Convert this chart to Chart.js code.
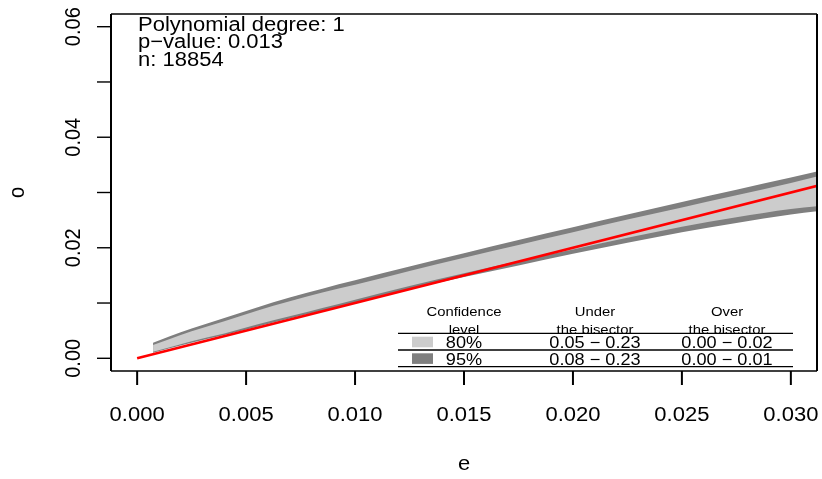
<!DOCTYPE html>
<html>
<head>
<meta charset="utf-8">
<script src="https://cdn.jsdelivr.net/npm/chart.js@4/dist/chart.umd.min.js"></script>
<style>
  html, body { margin: 0; padding: 0; background: #ffffff; }
  canvas { display: block; }
</style>
</head>
<body>
<canvas id="fitChart" width="822" height="479"></canvas>
<script>
// values
const eValues = [0.00073, 0.0015, 0.0025, 0.004, 0.0055, 0.007, 0.0085, 0.010, 0.0125, 0.015, 0.0175, 0.020, 0.0225, 0.025, 0.0275, 0.030, 0.0312];
const upper95 = [0.0028, 0.0040, 0.0054, 0.0073, 0.0092, 0.0110, 0.0126, 0.0141, 0.0166, 0.0190, 0.0214, 0.0237, 0.0260, 0.0283, 0.0305, 0.0327, 0.0338];
const upper80 = [0.0024, 0.0035, 0.0049, 0.0067, 0.0086, 0.0103, 0.0119, 0.0133, 0.0158, 0.0182, 0.0205, 0.0228, 0.0251, 0.0273, 0.0295, 0.0317, 0.0329];
const lower80 = [0.0012, 0.0020, 0.0031, 0.0045, 0.0061, 0.0076, 0.0091, 0.0106, 0.0131, 0.0154, 0.0176, 0.0197, 0.0218, 0.0238, 0.0255, 0.0270, 0.0275];
const lower95 = [0.0010, 0.0018, 0.0028, 0.0042, 0.0057, 0.0072, 0.0086, 0.0101, 0.0125, 0.0147, 0.0168, 0.0189, 0.0209, 0.0228, 0.0245, 0.0260, 0.0266];
const bisector = [0, 0.032];

const xTicks = [0, 0.005, 0.010, 0.015, 0.020, 0.025, 0.030];
const xTickLabels = ["0.000", "0.005", "0.010", "0.015", "0.020", "0.025", "0.030"];
const yTicks = [0, 0.01, 0.02, 0.03, 0.04, 0.05, 0.06];
const yTickLabels = ["0.00", "", "0.02", "", "0.04", "", "0.06"];

const infoLines = ["Polynomial degree: 1", "p\u2212value: 0.013", "n: 18854"];
const tableHeaders = [["Confidence", "level"], ["Under", "the bisector"], ["Over", "the bisector"]];
const tableLevels = ["80%", "95%"];
const tableUnder = ["0.05 \u2212 0.23", "0.08 \u2212 0.23"];
const tableOver = ["0.00 \u2212 0.02", "0.00 \u2212 0.01"];

const LIGHT = "#cccccc";
const DARK = "#7f7f7f";
const FONT = '"Liberation Sans", Arial, sans-serif';
const SX = 1.1; // the reference text is a bit stretched sideways

function toPoints(ys) {
  return eValues.map((e, i) => ({ x: e, y: ys[i] }));
}

function drawText(ctx, text, x, y, size, align, rotated) {
  ctx.save();
  ctx.translate(x, y);
  ctx.scale(SX, 1);
  if (rotated) ctx.rotate(-Math.PI / 2);
  ctx.font = `${size}px ${FONT}`;
  ctx.fillStyle = "#000000";
  ctx.textAlign = align;
  ctx.textBaseline = "alphabetic";
  ctx.fillText(text, 0, 0);
  ctx.restore();
}

function line(ctx, x1, y1, x2, y2, width) {
  ctx.beginPath();
  ctx.lineWidth = width;
  ctx.moveTo(x1, y1);
  ctx.lineTo(x2, y2);
  ctx.stroke();
}

const baseAxes = {
  id: "baseAxes",
  afterDraw(chart) {
    const { ctx, chartArea: area, scales } = chart;
    const xs = scales.x;
    const ys = scales.y;
    ctx.save();
    ctx.strokeStyle = "#000000";

    // box
    line(ctx, area.left, area.top, area.right, area.top, 1.4);
    line(ctx, area.left, area.bottom, area.right, area.bottom, 1.4);
    line(ctx, area.left, area.top, area.left, area.bottom, 2);
    line(ctx, area.right, area.top, area.right, area.bottom, 2);

    // x axis
    xTicks.forEach((v, i) => {
      const px = xs.getPixelForValue(v);
      line(ctx, px, area.bottom, px, area.bottom + 14, 2);
      drawText(ctx, xTickLabels[i], px, 421, 20, "center", false);
    });
    drawText(ctx, "e", (area.left + area.right) / 2, 470, 20, "center", false);

    // y axis
    yTicks.forEach((v, i) => {
      const py = ys.getPixelForValue(v);
      line(ctx, area.left - 14, py, area.left, py, 1.4);
      if (yTickLabels[i]) drawText(ctx, yTickLabels[i], 80, py, 20, "center", true);
    });
    drawText(ctx, "o", 24, (area.top + area.bottom) / 2, 20, "center", true);

    // info text
    infoLines.forEach((t, i) => drawText(ctx, t, 138, 31 + i * 17.4, 20, "left", false));

    // table legend
    const cols = [464, 595, 727];
    tableHeaders.forEach((h, i) => {
      drawText(ctx, h[0], cols[i], 316, 13.5, "center", false);
      drawText(ctx, h[1], cols[i], 333.5, 13.5, "center", false);
    });
    const rowBase = [348, 364.5];
    const swatchTop = [336.7, 353.3];
    [LIGHT, DARK].forEach((c, i) => {
      ctx.fillStyle = c;
      ctx.fillRect(412, swatchTop[i], 21, 10.6);
      drawText(ctx, tableLevels[i], cols[0], rowBase[i], 16.5, "center", false);
      drawText(ctx, tableUnder[i], cols[1], rowBase[i], 16.5, "center", false);
      drawText(ctx, tableOver[i], cols[2], rowBase[i], 16.5, "center", false);
    });
    [333.3, 350, 366.7].forEach((y) => line(ctx, 398, y, 793, y, 1.3));

    ctx.restore();
  },
};

new Chart(document.getElementById("fitChart"), {
  type: "line",
  data: {
    datasets: [
      {
        label: "bisector",
        data: bisector.map((v) => ({ x: v, y: v })),
        borderColor: "#ff0000",
        borderWidth: 2.6,
        pointRadius: 0,
        fill: false,
      },
      {
        label: "80% upper",
        data: toPoints(upper80),
        borderWidth: 0,
        pointRadius: 0,
        backgroundColor: LIGHT,
        fill: "+1",
        cubicInterpolationMode: "monotone",
      },
      {
        label: "80% lower",
        data: toPoints(lower80),
        borderWidth: 0,
        pointRadius: 0,
        fill: false,
        cubicInterpolationMode: "monotone",
      },
      {
        label: "95% upper",
        data: toPoints(upper95),
        borderWidth: 0,
        pointRadius: 0,
        backgroundColor: DARK,
        fill: "+1",
        cubicInterpolationMode: "monotone",
      },
      {
        label: "95% lower",
        data: toPoints(lower95),
        borderWidth: 0,
        pointRadius: 0,
        fill: false,
        cubicInterpolationMode: "monotone",
      },
    ],
  },
  options: {
    responsive: false,
    animation: false,
    layout: { padding: { left: 111, right: 5, top: 14, bottom: 108 } },
    plugins: {
      legend: { display: false },
      tooltip: { enabled: false },
    },
    scales: {
      x: { type: "linear", min: -0.0012, max: 0.0312, display: false },
      y: { type: "linear", min: -0.0023, max: 0.0623, display: false },
    },
  },
  plugins: [baseAxes],
});
</script>
</body>
</html>
